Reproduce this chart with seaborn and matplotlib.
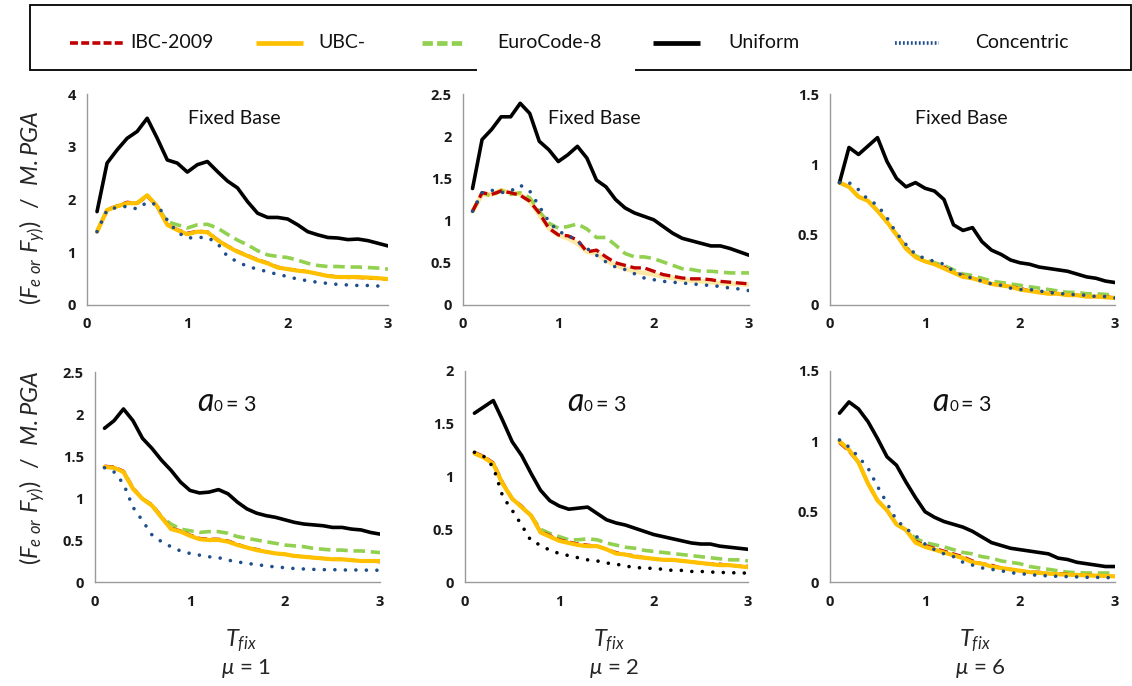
import numpy as np
import pandas as pd
import matplotlib
matplotlib.use("Agg")
import matplotlib.pyplot as plt
from matplotlib.lines import Line2D
from matplotlib.patches import Rectangle
from matplotlib.ticker import FuncFormatter
import seaborn as sns

sns.set_style("white")
plt.rcParams['font.family'] = ['Lato', 'DejaVu Sans']
plt.rcParams['mathtext.fontset'] = 'custom'
plt.rcParams['mathtext.rm'] = 'Lato'
plt.rcParams['mathtext.it'] = 'Lato:italic'

# ---------------- data ----------------
T = [0.1, 0.2, 0.3, 0.4, 0.5, 0.6, 0.7, 0.8, 0.9, 1.0,
     1.1, 1.2, 1.3, 1.4, 1.5, 1.6, 1.7, 1.8, 1.9, 2.0,
     2.1, 2.2, 2.3, 2.4, 2.5, 2.6, 2.7, 2.8, 2.9, 3.0]

series_names = ["IBC-2009", "UBC-", "EuroCode-8", "Uniform", "Concentric"]

# Panel 1: Fixed Base, mu = 1
p1_uniform = [1.77, 2.69, 2.94, 3.16, 3.29, 3.54, 3.16, 2.75, 2.69, 2.52,
              2.66, 2.72, 2.53, 2.35, 2.22, 1.96, 1.74, 1.66, 1.66, 1.63,
              1.52, 1.39, 1.33, 1.28, 1.27, 1.24, 1.25, 1.22, 1.17, 1.12]
p1_ubc = [1.39, 1.80, 1.87, 1.93, 1.93, 2.08, 1.87, 1.52, 1.42, 1.34,
          1.39, 1.38, 1.23, 1.11, 1.01, 0.93, 0.85, 0.79, 0.71, 0.68,
          0.65, 0.63, 0.59, 0.55, 0.53, 0.53, 0.53, 0.52, 0.51, 0.49]
p1_ibc = [1.39, 1.81, 1.88, 1.95, 1.93, 2.06, 1.87, 1.53, 1.43, 1.36,
          1.40, 1.39, 1.24, 1.12, 1.02, 0.94, 0.86, 0.80, 0.72, 0.68,
          0.66, 0.63, 0.59, 0.56, 0.53, 0.52, 0.52, 0.51, 0.50, 0.49]
p1_euro = [1.39, 1.80, 1.87, 1.93, 1.93, 2.08, 1.87, 1.58, 1.52, 1.46,
           1.52, 1.53, 1.46, 1.34, 1.23, 1.14, 1.03, 0.95, 0.92, 0.90,
           0.85, 0.79, 0.75, 0.73, 0.73, 0.72, 0.72, 0.71, 0.70, 0.68]
p1_conc = [1.39, 1.80, 1.85, 1.87, 1.82, 1.95, 1.90, 1.61, 1.38, 1.27,
           1.28, 1.28, 1.17, 0.92, 0.82, 0.73, 0.68, 0.63, 0.58, 0.54,
           0.49, 0.46, 0.43, 0.41, 0.39, 0.38, 0.37, 0.37, 0.36, 0.34]

# Panel 2: Fixed Base, mu = 2
p2_uniform = [1.38, 1.96, 2.08, 2.23, 2.23, 2.39, 2.27, 1.94, 1.84, 1.70,
              1.78, 1.88, 1.74, 1.48, 1.40, 1.25, 1.15, 1.09, 1.05, 1.01,
              0.93, 0.85, 0.79, 0.76, 0.73, 0.70, 0.70, 0.67, 0.63, 0.59]
p2_ubc = [1.11, 1.31, 1.31, 1.36, 1.33, 1.31, 1.23, 1.07, 0.91, 0.83,
          0.79, 0.73, 0.63, 0.61, 0.53, 0.47, 0.43, 0.40, 0.38, 0.36,
          0.34, 0.32, 0.30, 0.29, 0.28, 0.27, 0.26, 0.25, 0.25, 0.24]
p2_ibc = [1.11, 1.33, 1.31, 1.35, 1.33, 1.30, 1.23, 1.09, 0.91, 0.83,
          0.82, 0.77, 0.63, 0.65, 0.57, 0.50, 0.47, 0.44, 0.44, 0.40,
          0.36, 0.34, 0.32, 0.31, 0.31, 0.30, 0.28, 0.27, 0.26, 0.25]
p2_euro = [1.11, 1.33, 1.29, 1.36, 1.31, 1.33, 1.27, 1.11, 0.97, 0.91,
           0.93, 0.96, 0.90, 0.80, 0.80, 0.71, 0.61, 0.57, 0.57, 0.55,
           0.51, 0.47, 0.43, 0.42, 0.40, 0.40, 0.39, 0.38, 0.38, 0.38]
p2_conc = [1.11, 1.33, 1.36, 1.33, 1.35, 1.42, 1.35, 1.17, 0.99, 0.87,
           0.83, 0.75, 0.67, 0.59, 0.51, 0.45, 0.42, 0.37, 0.32, 0.30,
           0.28, 0.27, 0.26, 0.25, 0.24, 0.23, 0.22, 0.20, 0.19, 0.17]

# Panel 3: Fixed Base, mu = 6
p3_uniform = [0.87, 1.12, 1.07, 1.13, 1.19, 1.02, 0.90, 0.84, 0.87, 0.83,
              0.81, 0.75, 0.57, 0.53, 0.55, 0.45, 0.39, 0.36, 0.32, 0.30,
              0.29, 0.27, 0.26, 0.25, 0.24, 0.22, 0.20, 0.19, 0.17, 0.16]
p3_ubc = [0.87, 0.84, 0.77, 0.74, 0.67, 0.59, 0.50, 0.40, 0.34, 0.31,
          0.29, 0.26, 0.23, 0.20, 0.19, 0.17, 0.15, 0.14, 0.13, 0.11,
          0.10, 0.09, 0.08, 0.08, 0.07, 0.07, 0.06, 0.06, 0.055, 0.05]
p3_ibc = [0.87, 0.84, 0.77, 0.74, 0.67, 0.59, 0.50, 0.41, 0.34, 0.31,
          0.29, 0.27, 0.23, 0.21, 0.19, 0.17, 0.15, 0.14, 0.13, 0.12,
          0.10, 0.09, 0.09, 0.08, 0.07, 0.07, 0.06, 0.06, 0.06, 0.05]
p3_euro = [0.87, 0.84, 0.77, 0.74, 0.67, 0.59, 0.50, 0.41, 0.35, 0.32,
           0.30, 0.28, 0.25, 0.22, 0.21, 0.19, 0.17, 0.16, 0.15, 0.14,
           0.13, 0.12, 0.11, 0.10, 0.09, 0.09, 0.08, 0.08, 0.075, 0.07]
p3_conc = [0.87, 0.87, 0.82, 0.75, 0.71, 0.62, 0.51, 0.43, 0.36, 0.33,
           0.31, 0.29, 0.24, 0.21, 0.19, 0.17, 0.15, 0.14, 0.12, 0.11,
           0.11, 0.10, 0.09, 0.08, 0.08, 0.07, 0.07, 0.06, 0.06, 0.05]

# Panel 4: a0 = 3, mu = 1
p4_uniform = [1.83, 1.92, 2.06, 1.92, 1.71, 1.59, 1.45, 1.33, 1.19, 1.09,
              1.06, 1.07, 1.10, 1.05, 0.95, 0.87, 0.82, 0.79, 0.77, 0.74,
              0.71, 0.69, 0.68, 0.67, 0.65, 0.65, 0.63, 0.62, 0.59, 0.57]
p4_ubc = [1.37, 1.36, 1.31, 1.11, 0.99, 0.91, 0.77, 0.63, 0.60, 0.55,
          0.51, 0.50, 0.50, 0.48, 0.44, 0.41, 0.38, 0.36, 0.34, 0.33,
          0.31, 0.30, 0.29, 0.28, 0.27, 0.27, 0.26, 0.25, 0.25, 0.25]
p4_ibc = [1.38, 1.37, 1.32, 1.12, 0.99, 0.92, 0.78, 0.64, 0.61, 0.56,
          0.52, 0.51, 0.51, 0.49, 0.45, 0.41, 0.39, 0.36, 0.34, 0.33,
          0.31, 0.30, 0.29, 0.28, 0.27, 0.27, 0.26, 0.25, 0.25, 0.24]
p4_euro = [1.37, 1.36, 1.31, 1.11, 0.99, 0.91, 0.77, 0.69, 0.63, 0.61,
           0.59, 0.60, 0.60, 0.58, 0.54, 0.52, 0.50, 0.48, 0.46, 0.44,
           0.43, 0.42, 0.40, 0.39, 0.38, 0.38, 0.37, 0.37, 0.36, 0.35]
p4_conc = [1.36, 1.31, 1.17, 0.89, 0.73, 0.56, 0.48, 0.42, 0.37, 0.34,
           0.32, 0.30, 0.29, 0.26, 0.24, 0.22, 0.21, 0.19, 0.18, 0.17,
           0.16, 0.155, 0.15, 0.147, 0.147, 0.143, 0.143, 0.143, 0.14, 0.14]

# Panel 5: a0 = 3, mu = 2
p5_uniform = [1.60, 1.66, 1.72, 1.53, 1.33, 1.20, 1.03, 0.87, 0.77, 0.72,
              0.69, 0.70, 0.71, 0.65, 0.59, 0.56, 0.54, 0.51, 0.48, 0.45,
              0.43, 0.41, 0.39, 0.37, 0.36, 0.36, 0.34, 0.33, 0.32, 0.31]
p5_ubc = [1.22, 1.18, 1.12, 0.93, 0.79, 0.71, 0.63, 0.47, 0.43, 0.39,
          0.37, 0.35, 0.34, 0.34, 0.31, 0.27, 0.26, 0.24, 0.23, 0.22,
          0.21, 0.21, 0.20, 0.19, 0.18, 0.17, 0.16, 0.16, 0.15, 0.14]
p5_ibc = [1.23, 1.19, 1.13, 0.94, 0.79, 0.72, 0.63, 0.48, 0.44, 0.40,
          0.38, 0.36, 0.35, 0.34, 0.31, 0.28, 0.26, 0.25, 0.23, 0.22,
          0.21, 0.21, 0.20, 0.19, 0.18, 0.17, 0.17, 0.16, 0.15, 0.15]
p5_euro = [1.22, 1.18, 1.12, 0.93, 0.79, 0.71, 0.63, 0.50, 0.46, 0.43,
           0.40, 0.40, 0.41, 0.40, 0.37, 0.35, 0.33, 0.32, 0.30, 0.29,
           0.28, 0.27, 0.26, 0.25, 0.24, 0.23, 0.22, 0.21, 0.21, 0.20]
p5_conc = [1.23, 1.19, 1.09, 0.81, 0.68, 0.54, 0.39, 0.35, 0.30, 0.27,
           0.25, 0.23, 0.21, 0.20, 0.18, 0.17, 0.15, 0.14, 0.13, 0.13,
           0.12, 0.11, 0.11, 0.10, 0.10, 0.095, 0.09, 0.09, 0.085, 0.085]

# Panel 6: a0 = 3, mu = 6
p6_uniform = [1.20, 1.28, 1.23, 1.14, 1.02, 0.89, 0.83, 0.71, 0.60, 0.50,
              0.46, 0.43, 0.41, 0.39, 0.36, 0.32, 0.28, 0.26, 0.24, 0.23,
              0.22, 0.21, 0.20, 0.17, 0.16, 0.14, 0.13, 0.12, 0.11, 0.11]
p6_ubc = [1.00, 0.94, 0.85, 0.70, 0.58, 0.51, 0.41, 0.37, 0.28, 0.25,
          0.23, 0.21, 0.19, 0.17, 0.14, 0.13, 0.11, 0.10, 0.09, 0.08,
          0.07, 0.065, 0.06, 0.055, 0.052, 0.05, 0.047, 0.045, 0.043, 0.04]
p6_ibc = [0.99, 0.93, 0.85, 0.70, 0.58, 0.51, 0.41, 0.37, 0.29, 0.26,
          0.24, 0.22, 0.20, 0.18, 0.15, 0.13, 0.12, 0.10, 0.09, 0.08,
          0.07, 0.07, 0.06, 0.06, 0.055, 0.05, 0.05, 0.045, 0.045, 0.04]
p6_euro = [1.00, 0.94, 0.85, 0.70, 0.58, 0.51, 0.41, 0.37, 0.31, 0.28,
           0.265, 0.25, 0.23, 0.21, 0.20, 0.18, 0.17, 0.15, 0.14, 0.13,
           0.11, 0.10, 0.09, 0.08, 0.07, 0.066, 0.064, 0.064, 0.064, 0.064]
p6_conc = [1.01, 0.96, 0.89, 0.81, 0.68, 0.56, 0.44, 0.38, 0.33, 0.27,
           0.23, 0.20, 0.18, 0.14, 0.12, 0.10, 0.09, 0.08, 0.066, 0.06,
           0.052, 0.047, 0.043, 0.04, 0.038, 0.036, 0.033, 0.033, 0.031, 0.031]

panel_titles = ["Fixed Base", "Fixed Base", "Fixed Base"]
panel_ymax = [4, 2.5, 1.5, 2.5, 2, 1.5]
panel_ystep = [1, 0.5, 0.5, 0.5, 0.5, 0.5]
mu_values = ["1", "2", "6"]
xticks = [0, 1, 2, 3]

panels = [
    dict(IBC=p1_ibc, UBC=p1_ubc, EURO=p1_euro, UNI=p1_uniform, CONC=p1_conc),
    dict(IBC=p2_ibc, UBC=p2_ubc, EURO=p2_euro, UNI=p2_uniform, CONC=p2_conc),
    dict(IBC=p3_ibc, UBC=p3_ubc, EURO=p3_euro, UNI=p3_uniform, CONC=p3_conc),
    dict(IBC=p4_ibc, UBC=p4_ubc, EURO=p4_euro, UNI=p4_uniform, CONC=p4_conc),
    dict(IBC=p5_ibc, UBC=p5_ubc, EURO=p5_euro, UNI=p5_uniform, CONC=p5_conc),
    dict(IBC=p6_ibc, UBC=p6_ubc, EURO=p6_euro, UNI=p6_uniform, CONC=p6_conc),
]

# ---------------- styles ----------------
C_IBC = "#C00000"
C_UBC = "#FFC000"
C_EURO = "#92D050"
C_UNI = "#000000"
C_CONC = "#1F4E8C"
SPINE = "#9A9A9A"
TICKFONT = dict(family=["Open Sans", "DejaVu Sans"], weight="bold", size=10.5)

W, H = 1132, 686
fig = plt.figure(figsize=(W / 100, H / 100), dpi=100)

# axes boxes in pixel coords: (x_left(0), x_right(3), y_top, y_bottom)
boxes = [(87, 388, 94, 305), (463, 749, 94, 305), (830, 1115, 94, 305),
         (95, 380, 372, 582), (465, 748, 371, 582), (830, 1115, 371, 582)]


def fx(px):
    return px / W


def fy(py):
    return 1 - py / H


for i, (x0, x1, yt, yb) in enumerate(boxes):
    ax = fig.add_axes([fx(x0), fy(yb), (x1 - x0) / W, (yb - yt) / H])
    d = panels[i]
    conc_color = "#000000" if i == 4 else C_CONC
    sns.lineplot(x=T, y=d["EURO"], ax=ax, color=C_EURO, lw=2.6,
                 linestyle=(0, (3.2, 1.6)), zorder=2)
    if i == 1:
        sns.lineplot(x=T, y=d["UBC"], ax=ax, color=C_UBC, lw=3.4, alpha=0.35, zorder=3)
        sns.lineplot(x=T, y=d["IBC"], ax=ax, color=C_IBC, lw=2.4,
                     linestyle=(0, (3.2, 1.4)), zorder=4)
    else:
        sns.lineplot(x=T, y=d["IBC"], ax=ax, color=C_IBC, lw=2.2,
                     linestyle=(0, (3, 1.5)), zorder=3)
        sns.lineplot(x=T, y=d["UBC"], ax=ax, color=C_UBC, lw=3.0, zorder=4)
    sns.lineplot(x=T, y=d["UNI"], ax=ax, color=C_UNI, lw=2.6, zorder=5)
    sns.lineplot(x=T, y=d["CONC"], ax=ax, color=conc_color, lw=2.6,
                 linestyle=(0, (0.01, 2.9)), zorder=6)
    ax.lines[-1].set_dash_capstyle("round")

    ax.set_xlim(0, 3)
    ax.set_ylim(0, panel_ymax[i])
    ax.set_xticks(xticks)
    ax.set_yticks(np.arange(0, panel_ymax[i] + 1e-9, panel_ystep[i]))
    ax.yaxis.set_major_formatter(FuncFormatter(lambda v, p: f"{v:g}"))
    ax.xaxis.set_major_formatter(FuncFormatter(lambda v, p: f"{v:g}"))
    for s in ["top", "right"]:
        ax.spines[s].set_visible(False)
    for s in ["left", "bottom"]:
        ax.spines[s].set_color(SPINE)
        ax.spines[s].set_linewidth(1.0)
    ax.tick_params(axis="both", which="both", direction="out", color=SPINE,
                   length=4, width=1.0, pad=4)
    ax.tick_params(axis="x", pad=5)
    for tk in ax.xaxis.get_major_ticks() + ax.yaxis.get_major_ticks():
        tk.label1.set_fontproperties(TICKFONT)
        tk.label1.set_color("#1a1a1a")
    ax.set_xlabel("")
    ax.set_ylabel("")
    ax.set_facecolor("none")
    ax.grid(False)

# panel titles
title_pos = [(234, 119), (594, 119), (961, 119)]
for (cx, cy), t in zip(title_pos, panel_titles):
    fig.text(fx(cx), fy(cy), t, fontsize=14, ha="center", va="center", color="#111111")

a0_pos = [197, 567, 932]
for x in a0_pos:
    fig.text(fx(x), fy(411), "a", fontsize=23, style="italic", ha="left", va="baseline", color="#111111")
    fig.text(fx(x + 17), fy(411), "0", fontsize=11, ha="left", va="baseline", color="#111111")
    fig.text(fx(x + 29), fy(411), "= 3", fontsize=15.5, ha="left", va="baseline", color="#111111")

# x labels
xlab_cx = [241, 609, 975]
for cx, mu in zip(xlab_cx, mu_values):
    fig.text(fx(cx), fy(641), r"$T_{fix}$", fontsize=17, ha="center", va="center")
    fig.text(fx(cx + 5), fy(669), r"$\mu$ = " + mu, fontsize=16, ha="center", va="center")

# y labels
for cy in [208, 468]:
    fig.text(fx(32), fy(cy), r"$(F_{e\ or}\ F_{y)})\ \ /\ \ M.PGA$", fontsize=17,
             rotation=90, ha="center", va="center")

# legend box
fig.add_artist(Rectangle((fx(30), fy(70)), fx(1131) - fx(30), fy(5) - fy(70),
                         transform=fig.transFigure, fill=False, edgecolor="#000000",
                         lw=1.3))
fig.add_artist(Rectangle((fx(477), fy(72)), fx(635) - fx(477), 4 / H,
                         transform=fig.transFigure, facecolor="white", edgecolor="none"))
ly = fy(43)
leg = [
    (70, 123, C_IBC, dict(lw=2.6, linestyle=(0, (2.2, 0.9))), 130, series_names[0]),
    (256, 303, C_UBC, dict(lw=3.4, linestyle="-"), 318, series_names[1]),
    (422, 466, C_EURO, dict(lw=3.4, linestyle=(0, (2.2, 0.9))), 497, series_names[2]),
    (653, 700, C_UNI, dict(lw=3.4, linestyle="-"), 728, series_names[3]),
    (895, 939, C_CONC, dict(lw=2.6, linestyle=(0, (0.5, 0.6))), 975, series_names[4]),
]
for xa, xb, c, kw, tx, name in leg:
    fig.add_artist(Line2D([fx(xa), fx(xb)], [ly, ly], transform=fig.transFigure,
                          color=c, solid_capstyle="butt", dash_capstyle="butt", **kw))
    fig.text(fx(tx), ly, name, fontsize=14, ha="left", va="center", color="#111111")

fig.savefig("out.png", dpi=100, facecolor="white")
